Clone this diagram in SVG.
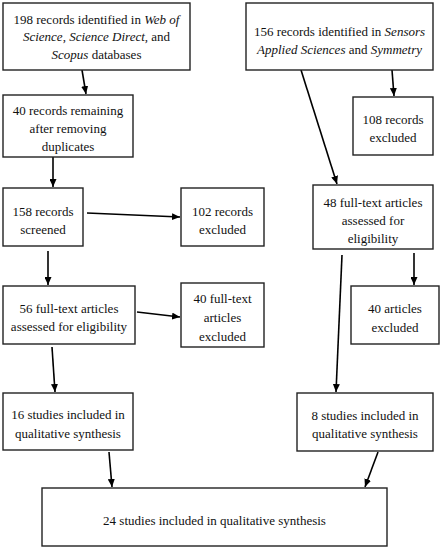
<svg xmlns="http://www.w3.org/2000/svg" width="442" height="550" viewBox="0 0 442 550">
<style>
rect{fill:#fff;stroke:#222;stroke-width:1.4}
text{font-family:'Liberation Serif','Times New Roman',serif;font-size:13px;fill:#111;text-anchor:middle}
.i{font-style:italic}
#connectors line{stroke:#000;stroke-width:1.6;marker-end:url(#ah)}
</style>
<defs>
<marker id="ah" markerUnits="userSpaceOnUse" markerWidth="9" markerHeight="7" refX="8" refY="3.5" orient="auto">
<path d="M0,0 L8,3.5 L0,7 z" fill="#000"/>
</marker>
</defs>
<rect x="0" y="0" width="442" height="550" style="fill:#fff;stroke:none"/>
<g id="connectors">
<line x1="82" y1="70" x2="86" y2="94"/>
<line x1="53" y1="157" x2="53" y2="187"/>
<line x1="87" y1="213" x2="180" y2="217"/>
<line x1="48" y1="251" x2="48" y2="285"/>
<line x1="137" y1="312" x2="180" y2="317"/>
<line x1="52" y1="347" x2="55" y2="392"/>
<line x1="109" y1="452" x2="112" y2="487"/>
<line x1="392" y1="70" x2="394" y2="96"/>
<line x1="301" y1="70" x2="337" y2="184"/>
<line x1="414" y1="253" x2="414" y2="285"/>
<line x1="342" y1="255" x2="336" y2="392"/>
<line x1="378" y1="452" x2="365" y2="487"/>
</g>
<g id="n1">
<rect x="3" y="3" width="187" height="67"/>
<text x="96.5" y="23.5">198 records identified in <tspan class="i">Web of</tspan></text>
<text x="96.5" y="41"><tspan class="i">Science</tspan>, <tspan class="i">Science Direct</tspan>, and</text>
<text x="96.5" y="58.5"><tspan class="i">Scopus</tspan> databases</text>
</g>
<g id="n2">
<rect x="3" y="95" width="130" height="62"/>
<text x="68" y="114.5">40 records remaining</text>
<text x="68" y="132.5">after removing</text>
<text x="68" y="151">duplicates</text>
</g>
<g id="n3">
<rect x="3" y="188" width="80" height="58"/>
<text x="43" y="215.5">158 records</text>
<text x="43" y="233.5">screened</text>
</g>
<g id="n4">
<rect x="181" y="188" width="83" height="58"/>
<text x="222.5" y="215.5">102 records</text>
<text x="222.5" y="233.5">excluded</text>
</g>
<g id="n5">
<rect x="3" y="286" width="132" height="58"/>
<text x="69" y="312.5">56 full-text articles</text>
<text x="69" y="331">assessed for eligibility</text>
</g>
<g id="n6">
<rect x="181" y="283" width="83" height="64"/>
<text x="222.5" y="302.5">40 full-text</text>
<text x="222.5" y="321.5">articles</text>
<text x="222.5" y="340.5">excluded</text>
</g>
<g id="n7">
<rect x="3" y="393" width="130" height="57"/>
<text x="68" y="418.5">16 studies included in</text>
<text x="68" y="437.5">qualitative synthesis</text>
</g>
<g id="n8">
<rect x="42" y="488" width="345" height="58"/>
<text x="214.5" y="524.5">24 studies included in qualitative synthesis</text>
</g>
<g id="n9">
<rect x="246" y="3" width="187" height="67"/>
<text x="339.5" y="35.5">156 records identified in <tspan class="i">Sensors</tspan></text>
<text x="339.5" y="53.5"><tspan class="i">Applied Sciences</tspan> and <tspan class="i">Symmetry</tspan></text>
</g>
<g id="n10">
<rect x="353" y="97" width="80" height="58"/>
<text x="393" y="123.5">108 records</text>
<text x="393" y="141.5">excluded</text>
</g>
<g id="n11">
<rect x="313" y="185" width="120" height="64"/>
<text x="373" y="206.5">48 full-text articles</text>
<text x="373" y="224.5">assessed for</text>
<text x="373" y="242.5">eligibility</text>
</g>
<g id="n12">
<rect x="351" y="286" width="88" height="58"/>
<text x="395" y="312.5">40 articles</text>
<text x="395" y="331.5">excluded</text>
</g>
<g id="n13">
<rect x="297" y="393" width="136" height="58"/>
<text x="365" y="420">8 studies included in</text>
<text x="365" y="437.5">qualitative synthesis</text>
</g>
</svg>
